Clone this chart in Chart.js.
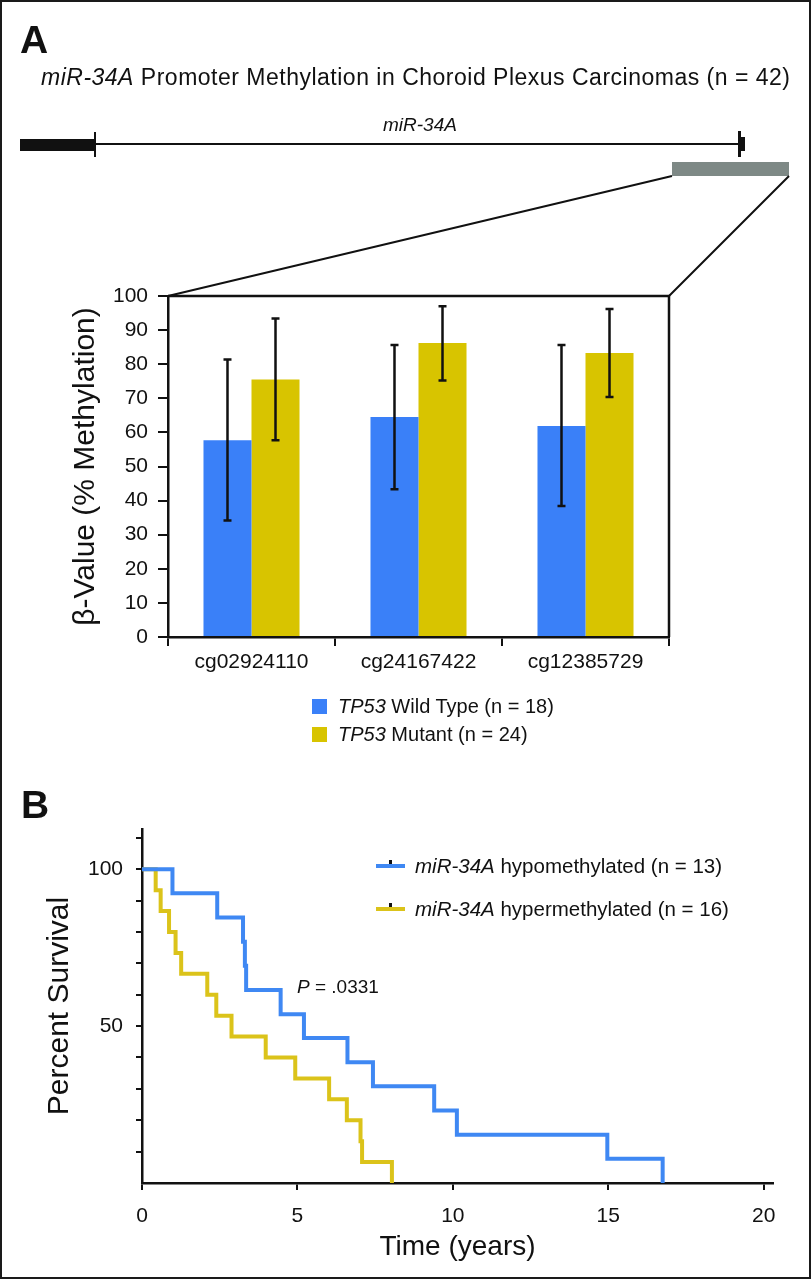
<!DOCTYPE html>
<html>
<head>
<meta charset="utf-8">
<script src="https://cdn.jsdelivr.net/npm/chart.js@4.4.1/dist/chart.umd.min.js"></script>
<style>
  html, body { margin: 0; padding: 0; background: #fff; }
  #page { position: relative; width: 812px; height: 1280px; overflow: hidden;
          font-family: "Liberation Sans", Arial, Helvetica, sans-serif; color: #111; }
  #frame { position: absolute; left: 0; top: 0; width: 811px; height: 1279px;
           box-sizing: border-box; border: 2px solid #1a1a1a; pointer-events: none; }
  canvas { position: absolute; left: 0; }
  .t { position: absolute; white-space: nowrap; z-index: 2; }
  .panel { font-family: "Liberation Sans Narrow", "Liberation Sans", Arial, sans-serif;
           font-weight: bold; font-size: 39px; line-height: 39px; }
  .sw { position: absolute; z-index: 2; }
</style>
</head>
<body>
<div id="page">
  <canvas id="barA" width="812" height="700" style="top:0"></canvas>
  <canvas id="kmB" width="812" height="500" style="top:780px"></canvas>

  <div class="t panel" style="left:20px;top:20px">A</div>
  <div class="t" style="left:41px;top:66px;font-size:23px;line-height:23px;letter-spacing:0.5px"><i>miR-34A</i> Promoter Methylation in Choroid Plexus Carcinomas (n = 42)</div>
  <div class="t" style="left:383px;top:115px;font-size:19px;line-height:19px"><i>miR-34A</i></div>
  <div id="legA"></div>

  <div class="t panel" style="left:21px;top:785px">B</div>
  <div id="legB"></div>
  <div class="t" style="left:297px;top:977px;font-size:19px;line-height:19px"><i>P</i> = .0331</div>

  <div id="frame"></div>
</div>
<script>
// ---- panel A: promoter methylation (beta value, %) ----
var SITES    = ['cg02924110', 'cg24167422', 'cg12385729'];
var WT_MEAN  = [57.7, 64.5, 61.9];
var WT_LOW   = [34.2, 43.3, 38.4];
var WT_HIGH  = [81.4, 85.6, 85.6];
var MUT_MEAN = [75.5, 86.2, 83.3];
var MUT_LOW  = [57.7, 75.2, 70.4];
var MUT_HIGH = [93.4, 97.0, 96.2];
var GROUPS_A = ['Wild Type (n = 18)', 'Mutant (n = 24)'];

// ---- panel B: Kaplan-Meier, time in years / percent survival ----
var HYPO_T  = [0, 0.98, 2.42, 3.25, 3.31, 3.35, 4.46, 5.21, 6.61, 7.43, 9.40, 10.13, 14.97, 16.75];
var HYPO_S  = [100, 92.3, 84.6, 76.9, 69.2, 61.5, 53.8, 46.2, 38.5, 30.8, 23.1, 15.4, 7.7, 0];
var HYPER_T = [0, 0.44, 0.60, 0.87, 1.08, 1.26, 2.10, 2.39, 2.88, 3.98, 4.93, 6.02, 6.59, 7.03, 7.08, 8.04];
var HYPER_S = [100, 93.3, 86.7, 80.0, 73.3, 66.7, 60.0, 53.3, 46.7, 40.0, 33.3, 26.7, 20.0, 13.3, 6.7, 0];
var GROUPS_B = ['hypomethylated (n = 13)', 'hypermethylated (n = 16)'];
var KM_X_TICKS = [0, 5, 10, 15, 20];
var KM_Y_TICKS = [10, 20, 30, 40, 50, 60, 70, 80, 90, 100, 110];
var KM_Y_LABELS = [50, 100];

var FONT = '"Liberation Sans", Arial, Helvetica, sans-serif';
var INK = '#111';
var BLUE = '#3a80f8', GOLD = '#d8c400';
var KM_BLUE = '#3f88f3', KM_GOLD = '#dbc31a';

// error bars drawn from each dataset's lo/hi arrays
var errorBars = {
  id: 'errorBars',
  afterDatasetsDraw: function (chart) {
    var ctx = chart.ctx, y = chart.scales.y;
    chart.data.datasets.forEach(function (ds, i) {
      chart.getDatasetMeta(i).data.forEach(function (bar, j) {
        var top = y.getPixelForValue(ds.hi[j]), bot = y.getPixelForValue(ds.lo[j]);
        ctx.save();
        ctx.strokeStyle = INK; ctx.lineWidth = 2.5;
        ctx.beginPath();
        ctx.moveTo(bar.x, top); ctx.lineTo(bar.x, bot);
        ctx.moveTo(bar.x - 4, top); ctx.lineTo(bar.x + 4, top);
        ctx.moveTo(bar.x - 4, bot); ctx.lineTo(bar.x + 4, bot);
        ctx.stroke();
        ctx.restore();
      });
    });
  }
};

// gene sketch above the bars, zoom lines down to the plot box, top/right box edges
var geneSketch = {
  id: 'geneSketch',
  afterDraw: function (chart) {
    var ctx = chart.ctx, a = chart.chartArea;
    ctx.save();
    ctx.fillStyle = INK; ctx.strokeStyle = INK;
    ctx.fillRect(20, 139, 75, 12);
    ctx.lineWidth = 2;
    ctx.beginPath();
    ctx.moveTo(95, 144); ctx.lineTo(740, 144);
    ctx.moveTo(95, 132); ctx.lineTo(95, 157);
    ctx.stroke();
    ctx.fillRect(738, 131, 3, 26);
    ctx.fillRect(739, 137, 6, 14);
    ctx.fillStyle = '#7e8986';
    ctx.fillRect(672, 162, 117, 14);
    ctx.beginPath();
    ctx.moveTo(672, 176); ctx.lineTo(a.left, a.top);
    ctx.moveTo(789, 176); ctx.lineTo(a.right, a.top);
    ctx.stroke();
    ctx.lineWidth = 2.5;
    ctx.beginPath();
    ctx.moveTo(a.left, a.top); ctx.lineTo(a.right, a.top); ctx.lineTo(a.right, a.bottom);
    ctx.stroke();
    ctx.restore();
  }
};

new Chart(document.getElementById('barA'), {
  type: 'bar',
  data: {
    labels: SITES,
    datasets: [
      { label: GROUPS_A[0], data: WT_MEAN, lo: WT_LOW, hi: WT_HIGH, backgroundColor: BLUE,
        borderWidth: 0, categoryPercentage: 0.575, barPercentage: 1 },
      { label: GROUPS_A[1], data: MUT_MEAN, lo: MUT_LOW, hi: MUT_HIGH, backgroundColor: GOLD,
        borderWidth: 0, categoryPercentage: 0.575, barPercentage: 1 }
    ]
  },
  options: {
    responsive: false, animation: false,
    layout: { padding: { left: 0, right: 143, top: 296, bottom: 0 } },
    plugins: { legend: { display: false }, tooltip: { enabled: false } },
    scales: {
      x: {
        grid: { drawOnChartArea: false, tickLength: 9, color: INK, lineWidth: 2 },
        border: { color: INK, width: 2.5 },
        ticks: { color: INK, font: { family: FONT, size: 21 }, padding: 4, maxRotation: 0 },
        afterFit: function (s) { s.height = 63; }
      },
      y: {
        min: 0, max: 100,
        grid: { drawOnChartArea: false, tickLength: 10, color: INK, lineWidth: 2 },
        border: { color: INK, width: 2.5 },
        ticks: { stepSize: 10, color: INK, font: { family: FONT, size: 21 }, padding: 10 },
        title: { display: true, text: 'β-Value (% Methylation)', color: INK,
                 font: { family: FONT, size: 30 }, padding: { top: 68, bottom: 0 } },
        afterFit: function (s) { s.width = 168; }
      }
    }
  },
  plugins: [errorBars, geneSketch]
});

function kmPoints(ts, ss) {
  return ts.map(function (t, i) { return { x: t, y: ss[i] }; });
}

new Chart(document.getElementById('kmB'), {
  type: 'line',
  data: {
    datasets: [
      { label: GROUPS_B[0], data: kmPoints(HYPO_T, HYPO_S), stepped: 'before',
        borderColor: KM_BLUE, borderWidth: 4, pointRadius: 0, fill: false, borderJoinStyle: 'miter' },
      { label: GROUPS_B[1], data: kmPoints(HYPER_T, HYPER_S), stepped: 'before',
        borderColor: KM_GOLD, borderWidth: 4, pointRadius: 0, fill: false, borderJoinStyle: 'miter' }
    ]
  },
  options: {
    responsive: false, animation: false,
    layout: { padding: { left: 0, right: 39, top: 49, bottom: 0 } },
    plugins: { legend: { display: false }, tooltip: { enabled: false } },
    scales: {
      x: {
        type: 'linear', min: 0, max: 20.3,
        afterBuildTicks: function (s) { s.ticks = KM_X_TICKS.map(function (v) { return { value: v }; }); },
        grid: { drawOnChartArea: false, tickLength: 7, color: INK, lineWidth: 2 },
        border: { color: INK, width: 2.5 },
        ticks: { color: INK, font: { family: FONT, size: 21 }, padding: 14, maxRotation: 0 },
        title: { display: true, text: 'Time (years)', color: INK,
                 font: { family: FONT, size: 28 }, padding: { top: 0, bottom: 16 } },
        afterFit: function (s) { s.height = 97; }
      },
      y: {
        min: 0, max: 112.8,
        afterBuildTicks: function (s) { s.ticks = KM_Y_TICKS.map(function (v) { return { value: v }; }); },
        grid: { drawOnChartArea: false, tickLength: 6, color: INK, lineWidth: 2 },
        border: { color: INK, width: 2.5 },
        ticks: { color: INK, font: { family: FONT, size: 21 }, padding: 13,
                 callback: function (v) { return KM_Y_LABELS.indexOf(v) >= 0 ? String(v) : ''; } },
        title: { display: true, text: 'Percent Survival', color: INK,
                 font: { family: FONT, size: 30 }, padding: { top: 42, bottom: 0 } },
        afterFit: function (s) { s.width = 142; }
      }
    }
  }
});

// html legends (gene names in italics)
(function () {
  var a = document.getElementById('legA');
  [BLUE, GOLD].forEach(function (c, i) {
    var top = 699 + i * 28;
    a.insertAdjacentHTML('beforeend',
      '<div class="sw" style="left:312px;top:' + top + 'px;width:15px;height:15px;background:' + c + '"></div>' +
      '<div class="t" style="left:338px;top:' + (top - 3) + 'px;font-size:20px;line-height:20px"><i>TP53</i> ' + GROUPS_A[i] + '</div>');
  });
  var b = document.getElementById('legB');
  [KM_BLUE, KM_GOLD].forEach(function (c, i) {
    var mid = 866 + i * 43;
    b.insertAdjacentHTML('beforeend',
      '<div class="sw" style="left:376px;top:' + (mid - 2) + 'px;width:29px;height:4px;background:' + c + '"></div>' +
      '<div class="sw" style="left:389px;top:' + (mid - 6) + 'px;width:3px;height:4px;background:#111"></div>' +
      '<div class="t" style="left:415px;top:' + (mid - 10) + 'px;font-size:20.5px;line-height:20.5px"><i>miR-34A</i> ' + GROUPS_B[i] + '</div>');
  });
})();
</script>
</body>
</html>
